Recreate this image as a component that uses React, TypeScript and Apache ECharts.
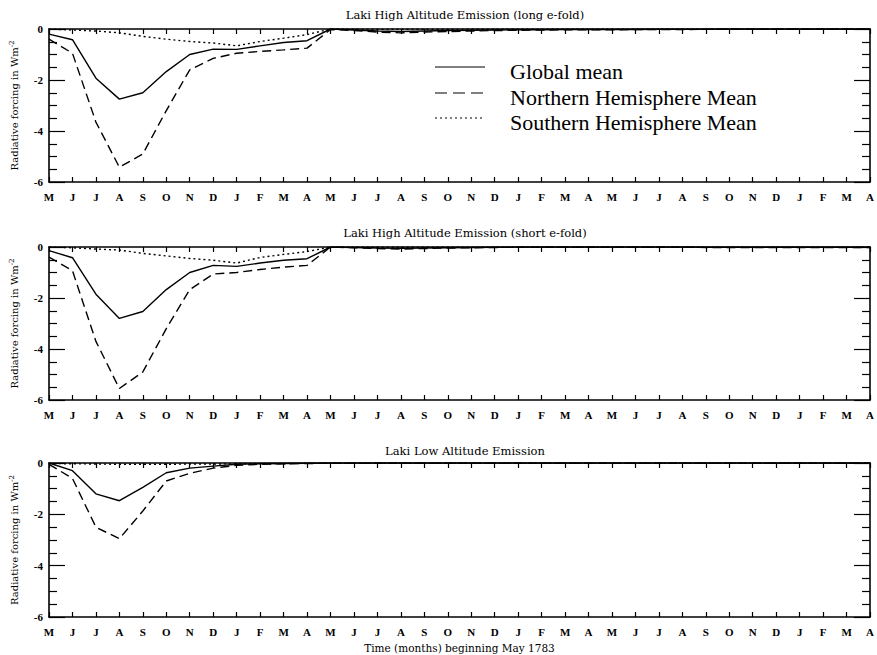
import React, { useEffect, useRef } from "react";
import * as echarts from "echarts";

// ---------- DATA ----------
const monthCycle = ["M", "J", "J", "A", "S", "O", "N", "D", "J", "F", "M", "A"];
const months = [...monthCycle, ...monthCycle, ...monthCycle];

const panelTitles = [
  "Laki High Altitude Emission (long e-fold)",
  "Laki High Altitude Emission (short e-fold)",
  "Laki Low Altitude Emission",
];
const seriesNames = ["Global mean", "Northern Hemisphere Mean", "Southern Hemisphere Mean"];
const yAxisTitle = "Radiative forcing in Wm{sup|-2}";
const xAxisTitle = "Time (months) beginning May 1783";

// Panel 1: long e-fold
const globalLong = [-0.2, -0.42, -1.93, -2.75, -2.5, -1.67, -1.0, -0.79, -0.8, -0.66, -0.53, -0.46,
  0, -0.04, -0.08, -0.1, -0.08, -0.06, -0.05, -0.04, -0.03, -0.03, -0.02, -0.02,
  -0.02, -0.02, -0.01, -0.01, -0.01, 0, 0, 0, 0, 0, 0, 0];
const nhLong = [-0.4, -0.95, -3.65, -5.42, -4.9, -3.2, -1.6, -1.15, -0.95, -0.88, -0.82, -0.75,
  -0.02, -0.06, -0.12, -0.15, -0.12, -0.1, -0.08, -0.06, -0.05, -0.04, -0.03, -0.03,
  -0.03, -0.02, -0.02, -0.02, -0.01, 0, 0, 0, 0, 0, 0, 0];
const shLong = [0, -0.04, -0.08, -0.15, -0.29, -0.4, -0.49, -0.55, -0.66, -0.49, -0.36, -0.22,
  0, 0, -0.01, -0.01, -0.01, -0.01, 0, 0, 0, 0, 0, 0,
  0, 0, 0, 0, 0, 0, 0, 0, 0, 0, 0, 0];

// Panel 2: short e-fold
const globalShort = [-0.14, -0.42, -1.85, -2.8, -2.53, -1.67, -1.0, -0.72, -0.76, -0.63, -0.52, -0.46,
  0, -0.02, -0.04, -0.05, -0.04, -0.03, -0.02, -0.01, 0, 0, 0, 0,
  0, 0, 0, 0, -0.01, -0.01, -0.01, -0.01, -0.01, -0.01, -0.01, -0.01];
const nhShort = [-0.4, -0.93, -3.7, -5.55, -4.9, -3.2, -1.67, -1.06, -1.0, -0.88, -0.79, -0.72,
  0, -0.03, -0.06, -0.08, -0.06, -0.04, -0.03, -0.02, -0.01, 0, 0, 0,
  0, 0, 0, 0, -0.02, -0.02, -0.02, -0.02, -0.02, -0.02, -0.02, -0.02];
const shShort = [0, -0.03, -0.08, -0.12, -0.25, -0.35, -0.45, -0.52, -0.63, -0.41, -0.29, -0.18,
  0, 0, 0, 0, 0, 0, 0, 0, 0, 0, 0, 0,
  0, 0, 0, 0, 0, 0, 0, 0, 0, 0, 0, 0];

// Panel 3: low altitude
const globalLow = [0, -0.3, -1.2, -1.47, -0.95, -0.38, -0.2, -0.12, -0.05, -0.03, -0.02, -0.01,
  0, 0, 0, 0, 0, 0, 0, 0, 0, 0, 0, 0,
  0, 0, 0, 0, 0, 0, 0, 0, 0, 0, 0, 0];
const nhLow = [-0.05, -0.6, -2.5, -2.95, -1.87, -0.7, -0.4, -0.2, -0.09, -0.05, -0.03, -0.02,
  -0.01, -0.01, 0, 0, 0, 0, 0, 0, 0, 0, 0, 0,
  0, 0, 0, 0, 0, 0, 0, 0, 0, 0, 0, 0];
const shLow = [-0.02, -0.03, -0.04, -0.05, -0.05, -0.05, -0.04, -0.04, -0.03, -0.02, -0.02, -0.01,
  0, 0, 0, 0, 0, 0, 0, 0, 0, 0, 0, 0,
  0, 0, 0, 0, 0, 0, 0, 0, 0, 0, 0, 0];

const panels = [
  [globalLong, nhLong, shLong],
  [globalShort, nhShort, shShort],
  [globalLow, nhLow, shLow],
];

// ---------- STYLE ----------
const FONT = "'Liberation Serif', 'DejaVu Serif', serif";
const SMALLFONT = "'DejaVu Serif', 'Liberation Serif', serif";
const BLACK = "#000";
const gridTops = [29, 247, 463];
const gridHeights = [153, 153, 154];
const titleTops = [4, 222, 440];
const lineTypes: any[] = ["solid", [9, 5], [2, 3]];

export default function App() {
  const ref = useRef<HTMLDivElement>(null);

  useEffect(() => {
    if (!ref.current) return;
    const chart = echarts.init(ref.current, null, { renderer: "svg" });

    const grids: any[] = [];
    const xAxes: any[] = [];
    const yAxes: any[] = [];
    const series: any[] = [];
    const titles: any[] = [];

    panels.forEach((panel, p) => {
      grids.push({ left: 46, right: 3, top: gridTops[p], height: gridHeights[p] });
      titles.push({
        text: panelTitles[p],
        left: 460,
        textAlign: "center",
        top: titleTops[p],
        textStyle: { fontFamily: SMALLFONT, fontSize: 11.5, fontWeight: "normal", color: BLACK },
      });
      // bottom x axis
      xAxes.push({
        type: "category",
        gridIndex: p,
        data: months,
        boundaryGap: false,
        position: "bottom",
        axisLine: { show: true, onZero: false, lineStyle: { color: BLACK, width: 1.6 } },
        axisTick: { show: true, inside: true, length: 5, interval: 0, lineStyle: { color: BLACK, width: 1.2 } },
        axisLabel: {
          show: true,
          interval: 0,
          margin: 9,
          color: BLACK,
          fontFamily: FONT,
          fontSize: 11,
          fontWeight: "bold",
        },
        splitLine: { show: false },
        name: p === 2 ? xAxisTitle : "",
        nameLocation: "middle",
        nameGap: 25,
        nameTextStyle: { fontFamily: SMALLFONT, fontSize: 10.5, color: BLACK },
      });
      // top x axis
      xAxes.push({
        type: "category",
        gridIndex: p,
        data: months,
        boundaryGap: false,
        position: "top",
        axisLine: { show: true, onZero: false, lineStyle: { color: BLACK, width: 1.6 } },
        axisTick: { show: true, inside: true, length: 5, interval: 0, lineStyle: { color: BLACK, width: 1.2 } },
        axisLabel: { show: false },
        splitLine: { show: false },
      });
      // left y axis
      yAxes.push({
        type: "value",
        gridIndex: p,
        min: -6,
        max: 0,
        interval: 2,
        position: "left",
        axisLine: { show: true, onZero: false, lineStyle: { color: BLACK, width: 1.6 } },
        axisTick: { show: true, inside: true, length: 16, lineStyle: { color: BLACK, width: 1.2 } },
        minorTick: { show: true, splitNumber: 4, length: 8, lineStyle: { color: BLACK, width: 1.2 } },
        axisLabel: { margin: 6, color: BLACK, fontFamily: FONT, fontSize: 11, fontWeight: "bold" },
        splitLine: { show: false },
        minorSplitLine: { show: false },
        name: yAxisTitle,
        nameLocation: "middle",
        nameRotate: 90,
        nameGap: 29,
        nameTextStyle: {
          fontFamily: SMALLFONT,
          fontSize: 10,
          color: BLACK,
          rich: {
            sup: { fontFamily: SMALLFONT, fontSize: 7, color: BLACK, verticalAlign: "top", padding: [0, 0, 5, 0] },
          },
        },
      });
      // right y axis
      yAxes.push({
        type: "value",
        gridIndex: p,
        min: -6,
        max: 0,
        interval: 2,
        position: "right",
        axisLine: { show: true, onZero: false, lineStyle: { color: BLACK, width: 1.6 } },
        axisTick: { show: true, inside: true, length: 16, lineStyle: { color: BLACK, width: 1.2 } },
        minorTick: { show: true, splitNumber: 4, length: 8, lineStyle: { color: BLACK, width: 1.2 } },
        axisLabel: { show: false },
        splitLine: { show: false },
        minorSplitLine: { show: false },
      });

      panel.forEach((values, s) => {
        series.push({
          name: seriesNames[s],
          type: "line",
          xAxisIndex: p * 2,
          yAxisIndex: p * 2,
          data: values,
          symbol: "none",
          clip: true,
          lineStyle: { color: BLACK, width: 1.4, type: lineTypes[s] },
          z: 3,
        });
      });
    });

    // legend drawn inside the top panel
    const legendRows = [67, 93, 118];
    const graphic: any[] = [];
    seriesNames.forEach((n, i) => {
      graphic.push({
        type: "line",
        shape: { x1: 435, y1: legendRows[i], x2: 485, y2: legendRows[i] },
        style: {
          stroke: BLACK,
          lineWidth: 1.2,
          lineDash: i === 0 ? null : i === 1 ? [12, 6] : [2, 3],
        },
      });
      graphic.push({
        type: "text",
        x: 510,
        y: legendRows[i] + 4,
        style: {
          text: n,
          fontFamily: FONT,
          fontSize: 22,
          fill: BLACK,
          verticalAlign: "middle",
          align: "left",
        },
      });
    });

    chart.setOption({
      animation: false,
      backgroundColor: "#fff",
      title: titles,
      grid: grids,
      xAxis: xAxes,
      yAxis: yAxes,
      series,
      graphic,
    });

    return () => chart.dispose();
  }, []);

  return (
    <div
      ref={ref}
      style={{ position: "fixed", left: 0, top: 0, width: 877, height: 655, background: "#fff" }}
    />
  );
}
